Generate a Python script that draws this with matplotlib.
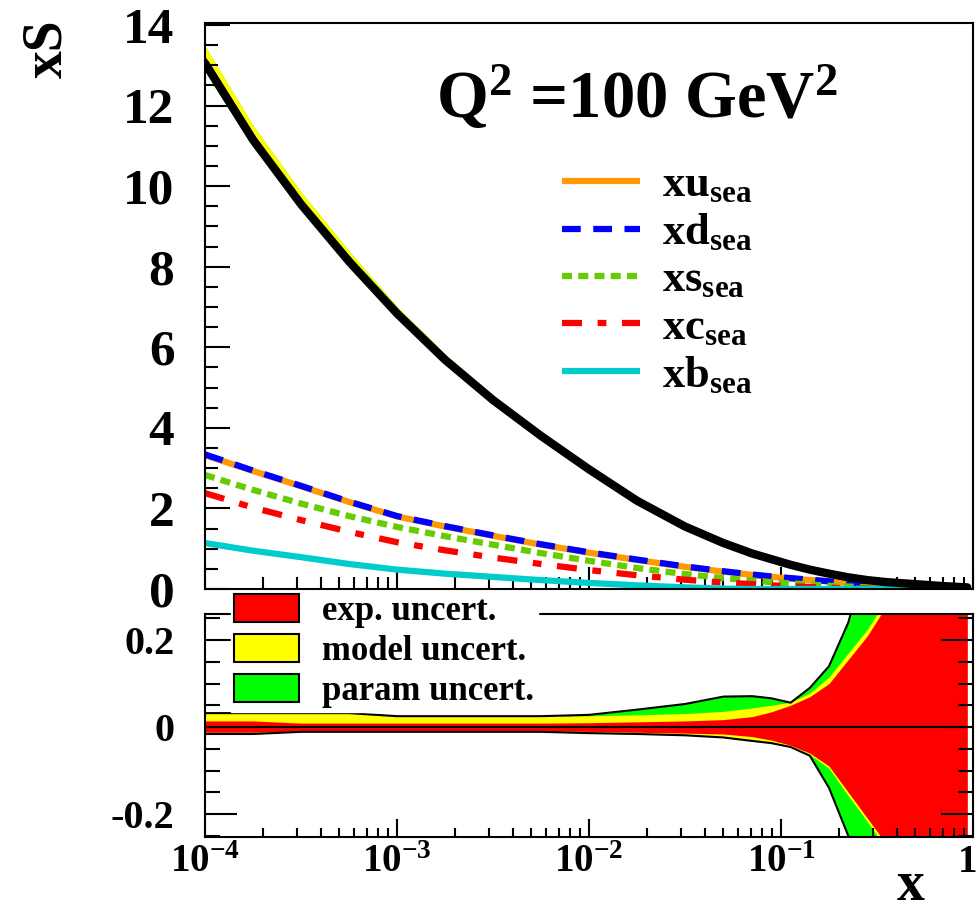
import numpy as np
import matplotlib
matplotlib.use("Agg")
import matplotlib.pyplot as plt
import matplotlib.transforms as mtransforms
from matplotlib.lines import Line2D
from matplotlib.patches import Patch
from matplotlib.ticker import LogLocator, NullFormatter, MultipleLocator

plt.rcParams['font.family'] = 'Liberation Serif'
plt.rcParams['font.weight'] = 'bold'
plt.rcParams['mathtext.fontset'] = 'custom'
plt.rcParams['mathtext.rm'] = 'Liberation Serif:bold'
plt.rcParams['mathtext.it'] = 'Liberation Serif:bold'
plt.rcParams['mathtext.bf'] = 'Liberation Serif:bold'
plt.rcParams['mathtext.default'] = 'rm'

# x grid (log10 x)
log_x = [-4.0, -3.75, -3.5, -3.25, -3.0, -2.75, -2.5, -2.25, -2.0, -1.75, -1.5,
         -1.3, -1.15, -1.05, -0.95, -0.85, -0.75, -0.65, -0.55, -0.45, -0.3, -0.15, -0.03]

# sea distributions at Q2 = 100 GeV2
xS_total = [13.05, 11.15, 9.55, 8.13, 6.84, 5.69, 4.69, 3.80, 2.97, 2.19, 1.55,
            1.14, 0.88, 0.74, 0.60, 0.48, 0.38, 0.29, 0.22, 0.17, 0.12, 0.07, 0.04]
xu_sea = [3.32, 2.93, 2.55, 2.16, 1.80, 1.55, 1.32, 1.10, 0.90, 0.72, 0.55,
          0.43, 0.35, 0.30, 0.26, 0.22, 0.19, 0.15, 0.11, 0.08, 0.05, 0.02, 0.0]
xd_sea = [3.34, 2.94, 2.56, 2.17, 1.81, 1.56, 1.33, 1.11, 0.91, 0.73, 0.56,
          0.44, 0.36, 0.31, 0.27, 0.23, 0.19, 0.15, 0.11, 0.08, 0.04, 0.02, 0.0]
xs_sea = [2.83, 2.46, 2.12, 1.81, 1.54, 1.31, 1.10, 0.89, 0.70, 0.52, 0.37,
          0.27, 0.21, 0.17, 0.14, 0.11, 0.08, 0.06, 0.04, 0.03, 0.01, 0.0, 0.0]
xc_sea = [2.38, 2.02, 1.71, 1.42, 1.16, 0.96, 0.78, 0.62, 0.47, 0.34, 0.23,
          0.16, 0.12, 0.09, 0.07, 0.05, 0.03, 0.02, 0.01, 0.0, 0.0, 0.0, 0.0]
xb_sea = [1.14, 0.95, 0.79, 0.62, 0.48, 0.38, 0.30, 0.22, 0.15, 0.09, 0.04,
          0.01, 0.0, 0.0, 0.0, 0.0, 0.0, 0.0, 0.0, 0.0, 0.0, 0.0, 0.0]

# relative uncertainties (ratio panel)
exp_hi = [0.014, 0.014, 0.009, 0.009, 0.009, 0.009, 0.009, 0.009, 0.010, 0.012, 0.014,
          0.017, 0.024, 0.035, 0.050, 0.070, 0.100, 0.155, 0.210, 0.280, 0.60, 1.0, 1.0]
exp_lo = [-0.012, -0.012, -0.009, -0.009, -0.009, -0.009, -0.009, -0.009, -0.010, -0.012, -0.014,
          -0.016, -0.022, -0.030, -0.042, -0.060, -0.090, -0.150, -0.210, -0.270, -0.60, -1.0, -1.0]
model_hi = [0.032, 0.032, 0.032, 0.032, 0.025, 0.025, 0.025, 0.025, 0.026, 0.028, 0.031,
            0.036, 0.044, 0.050, 0.057, 0.078, 0.115, 0.170, 0.225, 0.295, 0.62, 1.0, 1.0]
model_lo = [-0.016, -0.016, -0.011, -0.011, -0.011, -0.011, -0.011, -0.011, -0.014, -0.016, -0.018,
            -0.022, -0.030, -0.036, -0.046, -0.063, -0.095, -0.158, -0.218, -0.280, -0.62, -1.0, -1.0]
param_hi = [0.032, 0.032, 0.032, 0.032, 0.025, 0.025, 0.025, 0.025, 0.028, 0.040, 0.053,
            0.070, 0.071, 0.066, 0.056, 0.090, 0.140, 0.240, 0.40, 0.60, 1.0, 1.0, 1.0]
param_lo = [-0.016, -0.016, -0.011, -0.011, -0.011, -0.011, -0.011, -0.011, -0.014, -0.016, -0.019,
            -0.024, -0.032, -0.037, -0.046, -0.066, -0.140, -0.250, -0.40, -0.60, -1.0, -1.0, -1.0]

x_ticks = [1e-4, 1e-3, 1e-2, 1e-1, 1]
x_ticklabels = [r'$10^{-4}$', r'$10^{-3}$', r'$10^{-2}$', r'$10^{-1}$', '1']
sea_labels = [r'$xu_{sea}$', r'$xd_{sea}$', r'$xs_{sea}$', r'$xc_{sea}$', r'$xb_{sea}$']
band_labels = ['exp. uncert.', 'model uncert.', 'param uncert.']

c_orange, c_blue, c_green, c_red, c_cyan = '#ff9900', '#0000ff', '#66cc00', '#ff0000', '#00cccc'
c_exp, c_model, c_param = '#ff0000', '#ffff00', '#00ff00'

x = 10.0 ** np.array(log_x)
tot = np.array(xS_total)

fig = plt.figure(figsize=(9.8, 9.13), dpi=100)
ax1 = fig.add_axes([0.2092, 0.3549, 0.7837, 0.6199])
ax2 = fig.add_axes([0.2092, 0.0832, 0.7837, 0.2443])

# top panel: bands around the total, then the flavours, then the total
clip = lambda a: np.clip(np.array(a), -0.26, 0.26)
ax1.fill_between(x, tot * (1 + clip(param_lo)), tot * (1 + clip(param_hi)), color=c_param, lw=0)
ax1.fill_between(x, tot * (1 + clip(model_lo)), tot * (1 + clip(model_hi)), color=c_model, lw=0)
ax1.fill_between(x, tot * (1 + clip(exp_lo)), tot * (1 + clip(exp_hi)), color=c_exp, lw=0)

lw = 4.5
styles = [
    dict(color=c_orange, ls='-'),
    dict(color=c_blue, ls=(0, (3, 2))),
    dict(color=c_green, ls=(0, (1.6, 1.0))),
    dict(color=c_red, ls=(0, (3.2, 2.5, 1.4, 2.5))),
    dict(color=c_cyan, ls='-'),
]
for vals, st in zip([xu_sea, xd_sea, xs_sea, xc_sea, xb_sea], styles):
    ax1.plot(x, vals, lw=lw, solid_capstyle='butt', dash_capstyle='butt', **st)
ax1.plot(x, tot, color='black', lw=6, solid_capstyle='round', solid_joinstyle='round')

ax1.set_xscale('log')
ax1.set_xlim(1e-4, 1)
ax1.set_ylim(0, 14.05)
ax1.xaxis.set_major_locator(LogLocator(base=10, numticks=10))
ax1.xaxis.set_minor_locator(LogLocator(base=10, subs=np.arange(2, 10), numticks=10))
ax1.xaxis.set_major_formatter(NullFormatter())
ax1.xaxis.set_minor_formatter(NullFormatter())
ax1.yaxis.set_major_locator(MultipleLocator(2))
ax1.yaxis.set_minor_locator(MultipleLocator(0.5))
ax1.tick_params(axis='x', which='major', direction='in', length=16, width=1.5, top=False)
ax1.tick_params(axis='x', which='minor', direction='in', length=8.5, width=1.5, top=False)
ax1.tick_params(axis='y', which='major', direction='in', length=18, width=1.5, right=False,
                labelsize=37, pad=22)
ax1.tick_params(axis='y', which='minor', direction='in', length=9.5, width=1.5, right=False)

handles = [Line2D([], [], lw=lw, solid_capstyle='butt', dash_capstyle='butt', **st) for st in styles]
leg1 = ax1.legend(handles, sea_labels, loc='upper left',
                  bbox_to_anchor=(562 / 980, 1 - 165 / 913), bbox_transform=fig.transFigure,
                  frameon=False, fontsize=32, handlelength=1.76, handletextpad=0.5,
                  borderpad=0, borderaxespad=0, labelspacing=0.16)

# bottom panel: relative uncertainties
ax2.fill_between(x, param_lo, param_hi, color=c_param, lw=0)
ax2.fill_between(x, model_lo, model_hi, color=c_model, lw=0)
ax2.fill_between(x, exp_lo, exp_hi, color=c_exp, lw=0)
ax2.plot(x, param_hi, color='black', lw=1.5)
ax2.plot(x, param_lo, color='black', lw=1.5)
ax2.axhline(0, color='black', lw=1.5)

ax2.set_xscale('log')
ax2.set_xlim(1e-4, 1)
ax2.set_ylim(-0.253, 0.26)
ax2.set_xticks(x_ticks, labels=x_ticklabels)
ax2.xaxis.set_minor_locator(LogLocator(base=10, subs=np.arange(2, 10), numticks=10))
ax2.xaxis.set_minor_formatter(NullFormatter())
ax2.set_yticks([-0.2, 0, 0.2], labels=['-0.2', '0', '0.2'])
ax2.yaxis.set_minor_locator(MultipleLocator(0.05))
ax2.tick_params(axis='x', which='major', direction='in', length=13, width=1.5, top=False,
                labelsize=28, pad=5)
ax2.tick_params(axis='x', which='minor', direction='in', length=6.5, width=1.5, top=False)
ax2.tick_params(axis='y', which='major', direction='in', length=23, width=1.5, left=True,
                right=True, labelsize=29, pad=22)
ax2.tick_params(axis='y', which='minor', direction='in', length=11, width=1.5, left=True, right=True)

# keep the "1" label inside the canvas
last = ax2.get_xticklabels()[-1]
last.set_transform(last.get_transform() + mtransforms.ScaledTranslation(-5 / 100, 0, fig.dpi_scale_trans))

patches = [Patch(facecolor=c, edgecolor='black', lw=1.5) for c in (c_exp, c_model, c_param)]
leg2 = ax2.legend(patches, band_labels, loc='upper left',
                  bbox_to_anchor=(231 / 980, 1 - 591 / 913), bbox_transform=fig.transFigure,
                  frameon=True, fancybox=False, facecolor='white', edgecolor='white', framealpha=1,
                  fontsize=25, handlelength=1.87, handleheight=0.84, handletextpad=0.66,
                  borderpad=0.1, borderaxespad=0, labelspacing=0.18)
leg2.set_zorder(10)

for ax in (ax1, ax2):
    for s in ax.spines.values():
        s.set_linewidth(1.5)

fig.text(436 / 980, 1 - 118 / 913, r'Q$^{2}$ =100 GeV$^{2}$', fontsize=48,
         ha='left', va='baseline')
fig.text(47 / 980, 1 - 49 / 913, 'xS', fontsize=40, rotation=90, ha='center', va='center')
fig.text(911 / 980, 1.5 / 913, 'x', fontsize=40, ha='center', va='bottom')

fig.savefig('out.png', dpi=100)
